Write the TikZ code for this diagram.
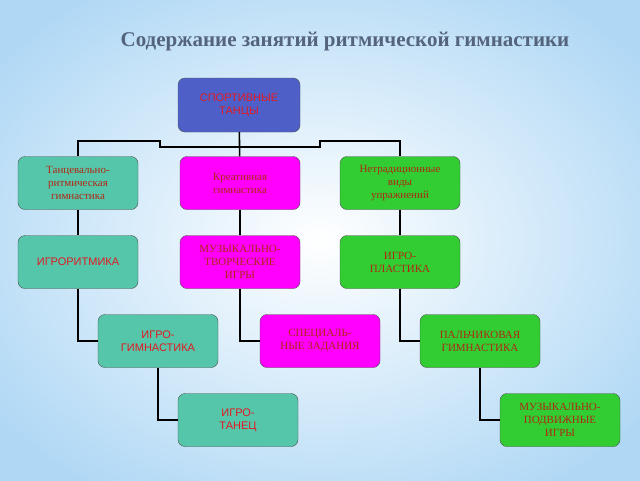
\documentclass[tikz,border=0pt]{standalone}
\usepackage{fontspec}
\setmainfont{Liberation Serif}
\setsansfont{Liberation Sans}
\usetikzlibrary{shadows}

\definecolor{bgblue}{RGB}{176,216,245}
\definecolor{topblue}{RGB}{78,96,200}
\definecolor{teal}{RGB}{86,198,170}
\definecolor{pink}{RGB}{255,0,255}
\definecolor{grn}{RGB}{50,205,50}
\definecolor{redsf}{RGB}{225,25,35}
\definecolor{redrm}{RGB}{175,40,20}
\definecolor{titlecol}{RGB}{85,100,125}

\begin{document}
\begin{tikzpicture}[x=1pt,y=-1pt,
    box/.style={draw=black!70,rounded corners=7pt,minimum width=120pt,
      minimum height=53pt,align=center,inner sep=2pt},
    sf/.style={font=\sffamily\fontsize{11}{13}\selectfont,text=redsf},
    rm/.style={font=\fontsize{11}{13}\selectfont,text=redrm},
    link/.style={line width=1.6pt,black}]
    \useasboundingbox (0,0) rectangle (640,480);
    \shade[inner color=white,outer color=bgblue] (-80,-60) rectangle (720,540);
    \node[font=\bfseries\fontsize{21}{24}\selectfont,text=titlecol] (title) at (345,42)
      {Содержание занятий ритмической гимнастики};
    % tree
    \node[box,fill=topblue,sf,minimum width=122pt,minimum height=54pt] (sport) at (239,105) {СПОРТИВНЫЕ\\ТАНЦЫ};
    \node[box,fill=teal,rm] (tanc) at (78,183) {Танцевально-\\ритмическая\\гимнастика};
    \node[box,fill=pink,rm] (kreat) at (240,183) {Креативная\\гимнастика};
    \node[box,fill=grn,rm] (netrad) at (400,183) {Нетрадиционные\\виды\\упражнений};
    \node[box,fill=teal,sf] (igrorit) at (78,262) {ИГРОРИТМИКА};
    \node[box,fill=pink,rm] (muztv) at (240,262) {МУЗЫКАЛЬНО-\\ТВОРЧЕСКИЕ\\ИГРЫ};
    \node[box,fill=grn,rm] (plast) at (400,262) {ИГРО-\\ПЛАСТИКА};
    \node[box,fill=teal,sf] (igrogim) at (158,341) {ИГРО-\\ГИМНАСТИКА};
    \node[box,fill=pink,rm] (spec) at (320,341) {СПЕЦИАЛЬ-\\НЫЕ ЗАДАНИЯ};
    \node[box,fill=grn,rm] (palch) at (480,341) {ПАЛЬЧИКОВАЯ\\ГИМНАСТИКА};
    \node[box,fill=teal,sf] (tanec) at (238,420) {ИГРО-\\ТАНЕЦ};
    \node[box,fill=grn,rm] (muzpod) at (560,420) {МУЗЫКАЛЬНО-\\ПОДВИЖНЫЕ\\ИГРЫ};
    % connectors
    \draw[link] (sport) -- (kreat);
    \draw[link] (tanc.north) |- (160,141) |- (320,147) |- (400,141) -- (netrad.north);
    \draw[link] (tanc) -- (igrorit);
    \draw[link] (kreat) -- (muztv);
    \draw[link] (netrad) -- (plast);
    \draw[link] (igrorit.south) |- (igrogim.west);
    \draw[link] (muztv.south) |- (spec.west);
    \draw[link] (plast.south) |- (palch.west);
    \draw[link] (igrogim.south) |- (tanec.west);
    \draw[link] (palch.south) |- (muzpod.west);
  \end{tikzpicture}
\end{document}
